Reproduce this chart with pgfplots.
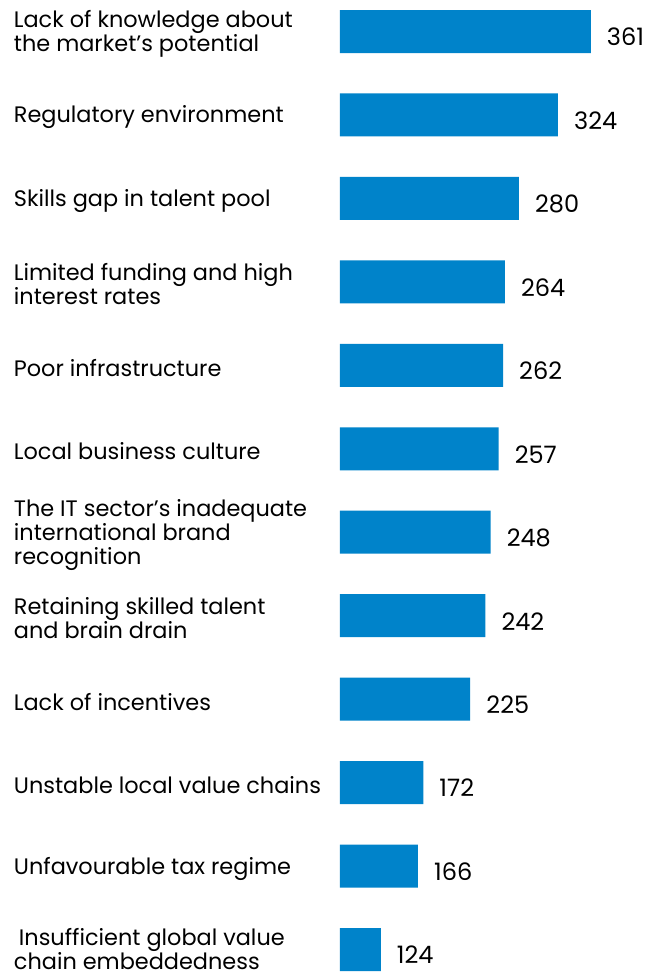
\documentclass[border=0pt]{standalone}
\usepackage{pgfplots}
\pgfplotsset{compat=1.18}
\usepackage{fontspec}
\setmainfont{Poppins}
\definecolor{barblue}{RGB}{0,131,202}
\pgfplotstableread{
y val
0 361
1 324
2 280
3 264
4 262
5 257
6 248
7 242
8 225
9 172
10 166
11 124
}\datatable
\begin{document}
\begin{tikzpicture}[x=1pt,y=1pt]
\begin{axis}[
  at={(340pt,0pt)}, anchor=south west,
  scale only axis, width=311pt, height=975pt,
  xbar, bar width=43pt,
  xmin=78, xmax=429,
  ymin=-0.3776, ymax=11.3056, y dir=reverse,
  axis line style={draw=none},
  tick style={draw=none},
  xtick=\empty,
  ytick={0,...,11},
  yticklabels={
    {Lack of knowledge about\\the market’s potential},
    {Regulatory environment},
    {Skills gap in talent pool},
    {Limited funding and high\\interest rates},
    {Poor infrastructure},
    {Local business culture},
    {The IT sector’s inadequate\\international brand\\recognition},
    {Retaining skilled talent\\and brain drain},
    {Lack of incentives},
    {Unstable local value chains},
    {Unfavourable tax regime},
    {\hspace*{5pt}Insufficient global value\\chain embeddedness\rule[-7pt]{0pt}{0pt}}
  },
  yticklabel style={align=left, anchor=west, xshift=-322pt, yshift=-2.5pt, inner sep=0pt,
    font=\fontsize{22.4}{24}\selectfont},
  point meta=x,
  nodes near coords,
  nodes near coords style={anchor=west, xshift=16pt, yshift=-5.5pt, inner sep=0pt,
    font=\fontsize{24}{26}\selectfont,
    /pgf/number format/assume math mode=true,
    /pgf/number format/fixed, /pgf/number format/precision=0},
]
\addplot[fill=barblue, draw=none] table[x=val, y=y] {\datatable};
\end{axis}
\pgfresetboundingbox
\path (0,0) rectangle (651,975);
\end{tikzpicture}
\end{document}
